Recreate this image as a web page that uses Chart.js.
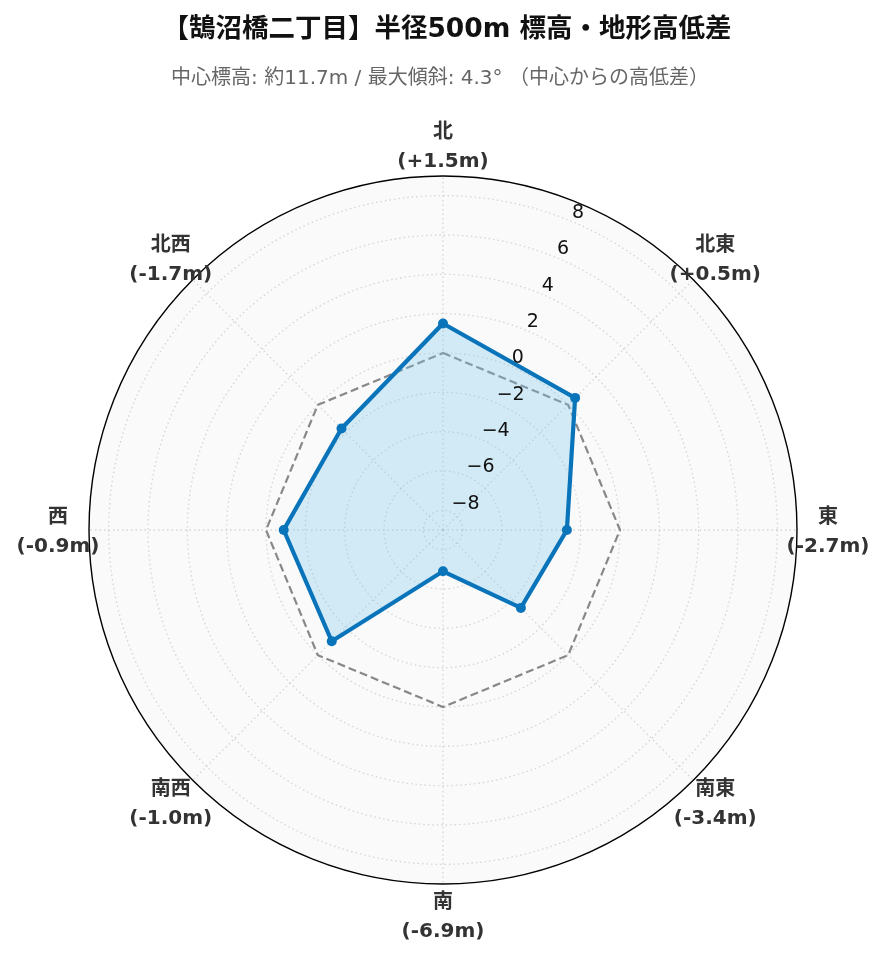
<!DOCTYPE html>
<html>
<head>
<meta charset="utf-8">
<script src="https://cdn.jsdelivr.net/npm/chart.js@4.4.1/dist/chart.umd.min.js"></script>
<style>
  html, body { margin: 0; padding: 0; background: #ffffff; }
  #wrap { width: 885px; height: 962px; position: relative; }
</style>
</head>
<body>
<div id="wrap"><canvas id="c"></canvas></div>
<script>
// ---- data ----
const directions = ["北", "北東", "東", "南東", "南", "南西", "西", "北西"];
const elevationDiff = [1.5, 0.5, -2.7, -3.4, -6.9, -1.0, -0.9, -1.7];
const zeroReference = [0, 0, 0, 0, 0, 0, 0, 0];
const tickValues = [-8, -6, -4, -2, 0, 2, 4, 6, 8];
const axisMin = -9;
const axisMax = 9;
const titleText = "【鵠沼橋二丁目】半径500m 標高・地形高低差";
const subtitleText = "中心標高: 約11.7m / 最大傾斜: 4.3° （中心からの高低差）";

const FONT = '"DejaVu Sans", "Noto Sans CJK JP", sans-serif';

function fmtDiff(v) {
  return "(" + (v > 0 ? "+" : "-") + Math.abs(v).toFixed(1) + "m)";
}

const decorPlugin = {
  id: 'decor',
  beforeDraw(chart) {
    const s = chart.scales.r;
    const ctx = chart.ctx;
    ctx.save();
    ctx.beginPath();
    ctx.arc(s.xCenter, s.yCenter, s.drawingArea, 0, Math.PI * 2);
    ctx.fillStyle = '#fafafa';
    ctx.fill();
    ctx.restore();
  },
  afterDraw(chart) {
    const s = chart.scales.r;
    const ctx = chart.ctx;
    ctx.save();
    // outer spine
    ctx.beginPath();
    ctx.arc(s.xCenter, s.yCenter, s.drawingArea, 0, Math.PI * 2);
    ctx.strokeStyle = '#000000';
    ctx.lineWidth = 1.4;
    ctx.stroke();

    // radial tick labels at 22.5 degrees
    const a = s.getIndexAngle(0) - Math.PI / 2 + Math.PI / 8;
    ctx.font = '19px ' + FONT;
    ctx.fillStyle = '#111111';
    ctx.textAlign = 'left';
    ctx.textBaseline = 'alphabetic';
    tickValues.forEach(v => {
      const d = s.getDistanceFromCenterForValue(v);
      const x = s.xCenter + Math.cos(a) * d;
      const y = s.yCenter + Math.sin(a) * d;
      const txt = v < 0 ? '\u2212' + Math.abs(v) : String(v);
      ctx.fillText(txt, x + 1, y - 3);
    });

    // direction labels
    ctx.textAlign = 'center';
    ctx.textBaseline = 'middle';
    ctx.fillStyle = '#333333';
    directions.forEach((name, i) => {
      const p = s.getPointPosition(i, s.drawingArea + 31);
      ctx.font = 'bold 20px ' + FONT;
      ctx.fillText(name, p.x, p.y - 12);
      ctx.fillText(fmtDiff(elevationDiff[i]), p.x, p.y + 17);
    });

    // titles
    ctx.fillStyle = '#111111';
    ctx.font = 'bold 26.5px ' + FONT;
    ctx.fillText(titleText, 447, 30);
    ctx.fillStyle = '#666666';
    ctx.font = '20px ' + FONT;
    ctx.fillText(subtitleText, 440, 79);
    ctx.restore();
  }
};

new Chart(document.getElementById('c'), {
  type: 'radar',
  data: {
    labels: directions,
    datasets: [
      {
        label: '高低差',
        data: elevationDiff,
        borderColor: '#0a74bb',
        backgroundColor: 'rgba(120, 200, 240, 0.3)',
        borderWidth: 4.2,
        fill: 'start',
        pointRadius: 5,
        pointBackgroundColor: '#0a74bb',
        pointBorderColor: '#0a74bb',
        pointBorderWidth: 0,
        order: 0
      },
      {
        label: '0',
        data: zeroReference,
        borderColor: '#888888',
        borderWidth: 2.2,
        borderDash: [8, 4],
        fill: false,
        pointRadius: 0,
        order: 1
      }
    ]
  },
  options: {
    responsive: true,
    maintainAspectRatio: false,
    animation: false,
    layout: { padding: { top: 176, bottom: 78, left: 89, right: 88 } },
    plugins: {
      legend: { display: false },
      title: { display: false },
      tooltip: { enabled: false }
    },
    scales: {
      r: {
        min: axisMin,
        max: axisMax,
        afterBuildTicks(scale) {
          scale.ticks = [axisMin].concat(tickValues, [axisMax]).map(v => ({ value: v }));
        },
        ticks: { display: false },
        pointLabels: { display: false },
        grid: {
          circular: true,
          color: (c) => (c.tick && c.tick.value === axisMax) ? 'rgba(0,0,0,0)' : 'rgba(200,200,200,0.75)',
          lineWidth: 1.3
        },
        border: { dash: [1.5, 3] },
        angleLines: {
          color: 'rgba(200,200,200,0.75)',
          lineWidth: 1.3,
          borderDash: [1.5, 3]
        }
      }
    }
  },
  plugins: [decorPlugin]
});
</script>
</body>
</html>
